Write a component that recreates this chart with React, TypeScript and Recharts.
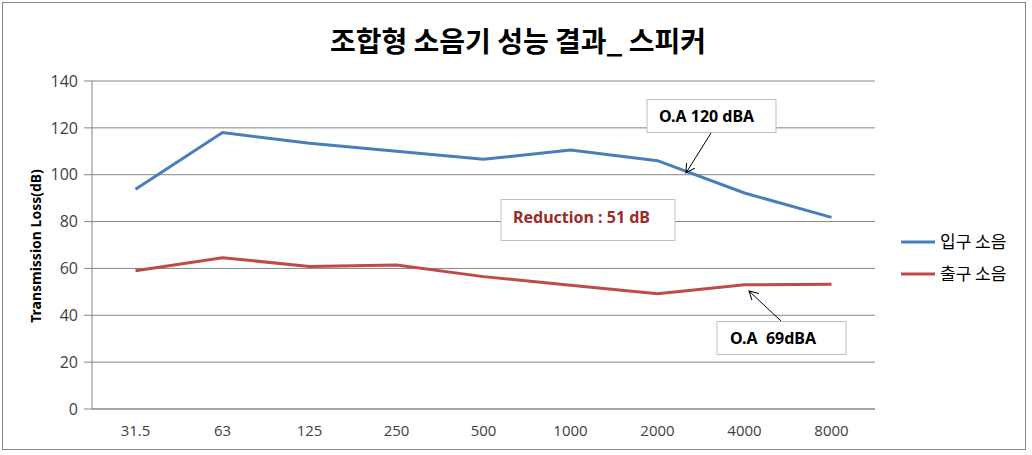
import React from 'react';
import { LineChart, Line, XAxis, YAxis, CartesianGrid } from 'recharts';

const categories = ['31.5', '63', '125', '250', '500', '1000', '2000', '4000', '8000'];
const inletNoise = [93.8, 118.0, 113.4, 110.0, 106.6, 110.5, 106.0, 92.2, 81.8];
const outletNoise = [59.0, 64.6, 60.8, 61.5, 56.5, 52.8, 49.2, 53.0, 53.3];
const yTicks = [0, 20, 40, 60, 80, 100, 120, 140];

const SERIES = [
  { key: 'inlet', name: '입구 소음', color: '#4a7ebb' },
  { key: 'outlet', name: '출구 소음', color: '#be4b48' }
];

const data = categories.map((c, i) => ({
  freq: c,
  inlet: inletNoise[i],
  outlet: outletNoise[i]
}));

const W = 1032;
const H = 455;
const GRID = '#868686';
const NUM_FONT = '"Open Sans", "Noto Sans", sans-serif';
const KR_FONT = '"Noto Sans CJK KR", "Noto Sans", sans-serif';
const LBL_FONT = '"Noto Sans", sans-serif';

// overlay: titulo, leyenda, cajas de anotacion
const Overlay = () => (
  <svg width={W} height={H} style={{ position: 'absolute', left: 0, top: 0, pointerEvents: 'none' }}>
    <defs>
      <marker id="arr" markerWidth="10" markerHeight="10" refX="9" refY="5" orient="auto" markerUnits="userSpaceOnUse">
        <path d="M0,0 L9,5 L0,10" fill="none" stroke="#000" strokeWidth={1} />
      </marker>
    </defs>
    <rect x={2.5} y={2.5} width={1023} height={447} fill="none" stroke={GRID} strokeWidth={1} />
    <text x={518} y={52} textAnchor="middle" fontFamily={KR_FONT} fontWeight="bold" fontSize={28} fill="#000">
      조합형 소음기 성능 결과_ 스피커
    </text>
    <text
      transform="translate(41,246) rotate(-90)"
      textAnchor="middle"
      fontFamily={LBL_FONT}
      fontWeight="bold"
      fontSize={14}
      fill="#000"
    >
      Transmission Loss(dB)
    </text>

    {/* leyenda */}
    {SERIES.map((s, i) => (
      <g key={s.key}>
        <line x1={901} x2={935} y1={242 + i * 32} y2={242 + i * 32} stroke={s.color} strokeWidth={3} />
        <text x={940} y={248 + i * 32} fontFamily={KR_FONT} fontSize={17} fill="#000">
          {s.name}
        </text>
      </g>
    ))}

    {/* O.A 120 dBA */}
    <rect x={647} y={99.5} width={129} height={33} fill="#fff" stroke="#bfbfbf" />
    <text x={659} y={122} fontFamily={LBL_FONT} fontWeight="bold" fontSize={16} fill="#000">
      O.A 120 dBA
    </text>
    <line x1={711} y1={133} x2={686} y2={173} stroke="#000" strokeWidth={1} markerEnd="url(#arr)" />

    {/* Reduction */}
    <rect x={501} y={199.5} width={174} height={41} fill="#fff" stroke="#bfbfbf" />
    <text x={513} y={223} fontFamily={LBL_FONT} fontWeight="bold" fontSize={16} fill="#9c2a2a">
      Reduction : 51 dB
    </text>

    {/* O.A 69dBA */}
    <rect x={717} y={321.5} width={129} height={33} fill="#fff" stroke="#bfbfbf" />
    <text x={730} y={344} fontFamily={LBL_FONT} fontWeight="bold" fontSize={16} fill="#000" xmlSpace="preserve">
      O.A  69dBA
    </text>
    <line x1={781} y1={321} x2={749} y2={291} stroke="#000" strokeWidth={1} markerEnd="url(#arr)" />
  </svg>
);

export default function App() {
  return (
    <div style={{ position: 'absolute', left: 0, top: 0, width: W, height: H, background: '#fff' }}>
      <LineChart width={W} height={H} data={data} margin={{ top: 81, right: 157, bottom: 16, left: 32 }}>
        <CartesianGrid vertical={false} stroke={GRID} strokeWidth={1} />
        <XAxis
          dataKey="freq"
          padding={{ left: 43.5, right: 43.5 }}
          height={30}
          tickLine={false}
          axisLine={{ stroke: GRID }}
          tickSize={0}
          tickMargin={16}
          tick={{ fill: '#404040', fontSize: 15, fontFamily: NUM_FONT }}
        />
        <YAxis
          width={60}
          domain={[0, 140]}
          ticks={yTicks}
          interval={0}
          tickSize={8}
          tickMargin={6}
          tickLine={{ stroke: GRID }}
          axisLine={{ stroke: GRID }}
          tick={{ fill: '#404040', fontSize: 16, fontFamily: NUM_FONT }}
        />
        {SERIES.map(s => (
          <Line
            key={s.key}
            dataKey={s.key}
            name={s.name}
            type="linear"
            stroke={s.color}
            strokeWidth={3}
            dot={false}
            isAnimationActive={false}
          />
        ))}
      </LineChart>
      <Overlay />
    </div>
  );
}
